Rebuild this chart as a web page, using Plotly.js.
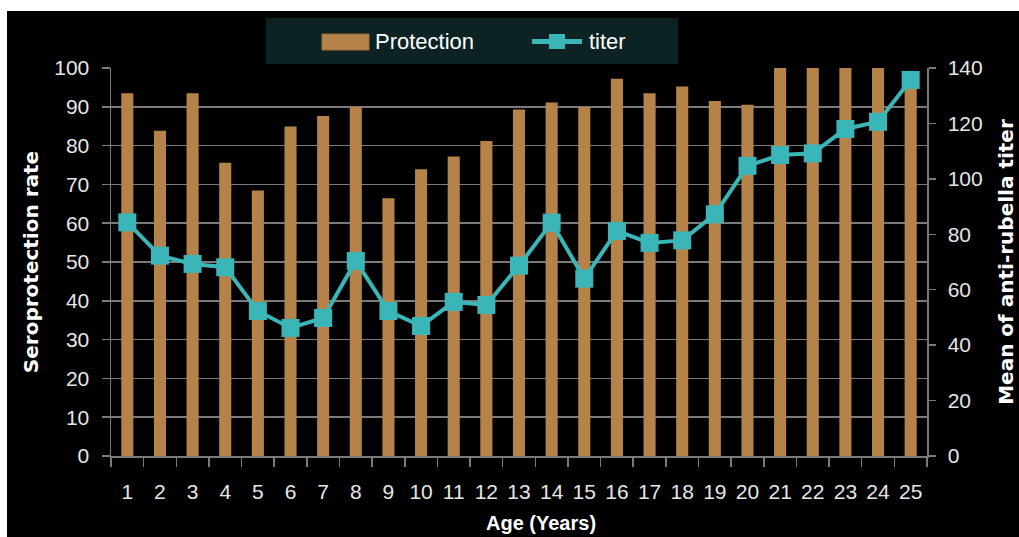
<!DOCTYPE html>
<html>
<head>
<meta charset="utf-8">
<script src="https://cdn.plot.ly/plotly-3.0.1.min.js"></script>
<style>
  html, body { margin: 0; padding: 0; background: #ffffff; width: 1019px; height: 537px; overflow: hidden; }
  #chart { position: absolute; left: 7px; top: 11px; width: 1012px; height: 526px; }
</style>
</head>
<body>
<div id="chart"></div>
<script>
// ---- data ----
const ages = ["1","2","3","4","5","6","7","8","9","10","11","12","13","14","15","16","17","18","19","20","21","22","23","24","25"];
const protection = [93.5, 83.8, 93.5, 75.6, 68.4, 84.9, 87.6, 90.0, 66.4, 73.9, 77.2, 81.2, 89.3, 91.1, 90.0, 97.2, 93.5, 95.2, 91.5, 90.5, 100, 100, 100, 100, 97];
const titer = [84.3, 72.3, 69.3, 68.1, 52.3, 46.2, 49.8, 70.4, 52.3, 46.9, 55.6, 54.5, 68.7, 84.2, 64.0, 81.2, 76.9, 77.8, 87.2, 104.7, 108.6, 109.2, 118.0, 120.6, 135.7];
const leftTicks = [0,10,20,30,40,50,60,70,80,90,100];
const rightTicks = [0,20,40,60,80,100,120,140];

const barColor = "#b5834a";
const lineColor = "#3ab6b8";
const gridColor = "#7a7a7a";
const tickFont = { family: "Liberation Sans, Arial, sans-serif", size: 21, color: "#e6e6e6" };
const titleFontL = { family: "DejaVu Sans, sans-serif", size: 20, color: "#ffffff", weight: "bold" };
const titleFontR = { family: "DejaVu Sans, sans-serif", size: 20, color: "#ffffff", weight: "bold" };

const traces = [
  {
    type: "bar", name: "Protection", x: ages, y: protection,
    marker: { color: barColor }, width: 0.37, yaxis: "y", hoverinfo: "x+y"
  },
  {
    type: "scatter", mode: "lines+markers", name: "titer", x: ages, y: titer, yaxis: "y2",
    line: { color: lineColor, width: 4 },
    marker: { symbol: "square", size: 18, color: lineColor }
  }
];

// helper: page pixel -> paper coords (plot area x 111..927, y 68..456)
const px = p => (p - 111) / 816;
const py = p => (456 - p) / 388;

const layout = {
  width: 1012, height: 526,
  margin: { l: 104, r: 92, t: 57, b: 81, pad: 0 },
  paper_bgcolor: "#000000", plot_bgcolor: "#000000",
  showlegend: false,
  xaxis: {
    type: "category", categoryorder: "array", categoryarray: ages,
    range: [-0.5, 24.5],
    showline: true, linecolor: gridColor, linewidth: 1.5,
    ticks: "outside", tickson: "boundaries", ticklen: 9, tickcolor: gridColor, tickwidth: 1.5,
    tickfont: tickFont, tickangle: 0, ticklabelstandoff: 16,
    showgrid: false, zeroline: false, fixedrange: true
  },
  yaxis: {
    range: [0, 100], tickvals: leftTicks, ticktext: leftTicks.map(String),
    showline: true, linecolor: gridColor, linewidth: 1.5,
    ticks: "outside", ticklen: 8, tickcolor: gridColor, tickwidth: 1.5,
    tickfont: tickFont, ticklabelstandoff: 8,
    showgrid: true, gridcolor: gridColor, gridwidth: 1.5, zeroline: false,
    title: { text: "Seroprotection rate", font: titleFontL, standoff: 10 },
    fixedrange: true
  },
  yaxis2: {
    overlaying: "y", side: "right",
    range: [0, 140], tickvals: rightTicks, ticktext: rightTicks.map(String),
    showline: true, linecolor: gridColor, linewidth: 1.5,
    ticks: "outside", ticklen: 7, tickcolor: gridColor, tickwidth: 1.5,
    tickfont: tickFont, ticklabelstandoff: 8,
    showgrid: false, zeroline: false,
    title: { text: "Mean of anti-rubella titer", font: titleFontR, standoff: 17 },
    fixedrange: true
  },
  shapes: [
    { type: "rect", xref: "paper", yref: "paper", x0: px(266), x1: px(678), y0: py(64), y1: py(18),
      fillcolor: "#0c2223", line: { width: 0 }, layer: "above" },
    { type: "rect", xref: "paper", yref: "paper", x0: px(322), x1: px(369), y0: py(50), y1: py(34),
      fillcolor: barColor, line: { color: "#9a6c38", width: 1 }, layer: "above" },
    { type: "line", xref: "paper", yref: "paper", x0: px(532), x1: px(582), y0: py(41.5), y1: py(41.5),
      line: { color: lineColor, width: 5 }, layer: "above" },
    { type: "rect", xref: "paper", yref: "paper", x0: px(549), x1: px(565), y0: py(49), y1: py(34),
      fillcolor: lineColor, line: { width: 0 }, layer: "above" }
  ],
  annotations: [
    { xref: "paper", yref: "paper", x: px(373), y: py(41), xanchor: "left", yanchor: "middle",
      text: "Protection", showarrow: false,
      font: { family: "Liberation Sans, Arial, sans-serif", size: 22, color: "#ffffff" } },
    { xref: "paper", yref: "paper", x: px(587), y: py(41), xanchor: "left", yanchor: "middle",
      text: "titer", showarrow: false,
      font: { family: "Liberation Sans, Arial, sans-serif", size: 22, color: "#ffffff" } },
    { xref: "paper", yref: "paper", x: px(541), y: py(523), xanchor: "center", yanchor: "middle",
      text: "Age (Years)", showarrow: false,
      font: { family: "Liberation Sans, Arial, sans-serif", size: 20, color: "#ffffff", weight: "bold" } }
  ]
};

Plotly.newPlot("chart", traces, layout, { displayModeBar: false, staticPlot: true });
</script>
</body>
</html>
